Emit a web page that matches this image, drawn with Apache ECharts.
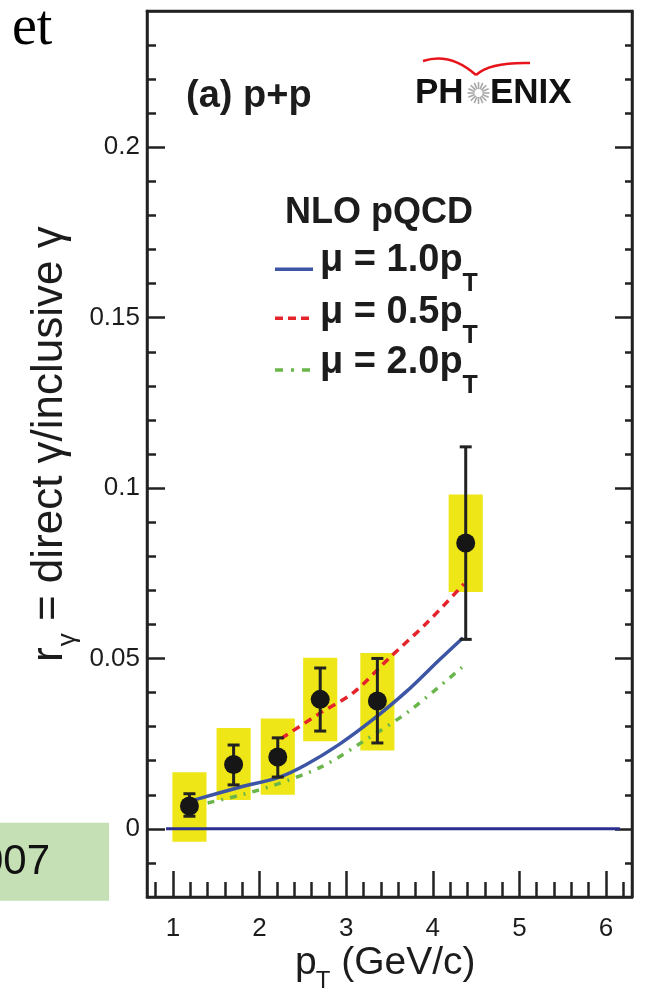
<!DOCTYPE html>
<html><head><meta charset="utf-8">
<script src="https://cdn.jsdelivr.net/npm/echarts@6/dist/echarts.min.js"></script>
<style>html,body{margin:0;padding:0;background:#fff}#c{width:651px;height:994px}</style>
</head><body><div id="c"></div>
<script>
// ---- data ----
const pT        = [1.19, 1.70, 2.21, 2.70, 3.36, 4.38];
const rGamma    = [0.0067, 0.0189, 0.0211, 0.0380, 0.0375, 0.0839];
const statLow   = [0.0037, 0.0129, 0.0152, 0.0287, 0.0252, 0.0556];
const statHigh  = [0.0103, 0.0246, 0.0267, 0.0472, 0.0500, 0.1121];
const sysLow    = [-0.0038, 0.0085, 0.0100, 0.0257, 0.0230, 0.0695];
const sysHigh   = [0.0166, 0.0296, 0.0324, 0.0502, 0.0516, 0.0981];

const mu10X = [1.20, 1.29, 1.77, 2.23, 2.54, 2.92, 3.31, 3.70, 4.08, 4.35];
const mu10Y = [0.0082, 0.0088, 0.0122, 0.0152, 0.0189, 0.0248, 0.0321, 0.0404, 0.0497, 0.0561];
const mu05X = [2.25, 2.70, 3.08, 3.50, 3.93, 4.36];
const mu05Y = [0.0265, 0.0340, 0.0399, 0.0502, 0.0604, 0.0719];
const mu20X = [1.40, 1.81, 2.19, 2.73, 3.23, 3.73, 4.36];
const mu20Y = [0.0076, 0.0101, 0.0130, 0.0184, 0.0262, 0.0346, 0.0479];
const zeroX = [0.92, 6.16];
const zeroY = [0, 0];

const xMajorTicks = [1, 2, 3, 4, 5, 6];
const xMinorTicks = [0.8, 1.2, 1.4, 1.6, 1.8, 2.2, 2.4, 2.6, 2.8, 3.2, 3.4, 3.6, 3.8,
                     4.2, 4.4, 4.6, 4.8, 5.2, 5.4, 5.6, 5.8, 6.2];
const yMajorTicks = [0, 0.05, 0.1, 0.15, 0.2];
const yMinorTicks = [-0.01, 0.01, 0.02, 0.03, 0.04, 0.06, 0.07, 0.08, 0.09, 0.11, 0.12, 0.13, 0.14,
                     0.16, 0.17, 0.18, 0.19, 0.21, 0.22, 0.23];

const legendNames = ['\u03bc = 1.0p', '\u03bc = 0.5p', '\u03bc = 2.0p'];

// ---- styling ----
const FONT = '"Liberation Sans", Arial, sans-serif';
const INK = '#1c1c1c';
const BLUE = '#3d55a5', RED = '#e5232b', GREEN = '#6ab64a', YELLOW = '#eee617';
const BOX_HALF = 0.197;

const mctx = document.createElement('canvas').getContext('2d');
function tw(s, font) { mctx.font = font; return mctx.measureText(s).width; }

const zip = (a, b) => a.map((v, i) => [v, b[i]]);

const chart = echarts.init(document.getElementById('c'), null, {renderer: 'canvas'});

const axisBase = {type: 'value', min: 0.7, max: 6.3, splitLine: {show: false}};
const yBase = {type: 'value', min: -0.02, max: 0.24, splitLine: {show: false}};
const lineSt = {color: '#222', width: 2.5};

// label pieces
const yFont = '44px ' + FONT, ySubFont = '26px ' + FONT;
const xFont = '39px ' + FONT, xSubFont = '24px ' + FONT;
const legFont = 'bold 38px ' + FONT, legSubFont = 'bold 25px ' + FONT;

const legendY = [260.8, 312.3, 362.5];
const legendLineY = [269.3, 318.3, 370];
const legendColors = [BLUE, RED, GREEN];
const legendDash = ['solid', [8, 5], [8, 8, 3, 8]];

const graphics = [];
// slide fragments
graphics.push({type: 'text', x: 12, y: 29.5, style: {text: 'et', font: '56px "Liberation Serif", serif', fill: '#000', align: 'left', verticalAlign: 'middle'}});
graphics.push({type: 'rect', shape: {x: 0, y: 822.7, width: 109, height: 78}, style: {fill: '#c5e0b4'}});
graphics.push({type: 'text', x: 50, y: 862.5, style: {text: '007', font: '42px ' + FONT, fill: '#111', align: 'right', verticalAlign: 'middle'}});

// (a) p+p
graphics.push({type: 'text', x: 186, y: 97, style: {text: '(a) p+p', font: 'bold 38px ' + FONT, fill: INK, align: 'left', verticalAlign: 'middle'}});
// PHENIX logo
graphics.push({type: 'text', x: 415, y: 93.4, style: {text: 'PH', font: 'bold 35px ' + FONT, fill: '#111', align: 'left', verticalAlign: 'middle'}});
graphics.push({type: 'text', x: 490, y: 93.4, style: {text: 'ENIX', font: 'bold 35px ' + FONT, fill: '#111', align: 'left', verticalAlign: 'middle'}});
for (let k = 0; k < 16; k++) {
  const a = k * Math.PI / 8;
  graphics.push({type: 'line', shape: {x1: 478.5 + 4 * Math.cos(a), y1: 93 + 4 * Math.sin(a), x2: 478.5 + 11 * Math.cos(a), y2: 93 + 11 * Math.sin(a)}, style: {stroke: '#a8a8a8', lineWidth: 1.6}});
}
graphics.push({type: 'bezierCurve', shape: {x1: 423, y1: 61, cpx1: 450, cpy1: 52, x2: 476, y2: 75}, style: {stroke: '#e8141c', lineWidth: 2.5, fill: null}});
graphics.push({type: 'bezierCurve', shape: {x1: 476, y1: 75, cpx1: 490, cpy1: 62, x2: 530, y2: 63}, style: {stroke: '#e8141c', lineWidth: 2.5, fill: null}});

// legend
graphics.push({type: 'text', x: 285, y: 213.3, style: {text: 'NLO pQCD', font: 'bold 36px ' + FONT, fill: INK, align: 'left', verticalAlign: 'middle'}});
legendNames.forEach((nm, i) => {
  graphics.push({type: 'line', shape: {x1: 275, y1: legendLineY[i], x2: 313, y2: legendLineY[i]}, style: {stroke: legendColors[i], lineWidth: 3.5, lineDash: legendDash[i] === 'solid' ? null : legendDash[i]}});
  graphics.push({type: 'text', x: 320, y: legendY[i], style: {text: nm, font: legFont, fill: INK, align: 'left', verticalAlign: 'middle'}});
  graphics.push({type: 'text', x: 320 + tw(nm, legFont), y: legendY[i] + 23.5, style: {text: 'T', font: legSubFont, fill: INK, align: 'left', verticalAlign: 'middle'}});
});

// y axis title (rotated)
const wr = tw('r', yFont), wg = tw('\u03b3', ySubFont);
graphics.push({type: 'group', x: 49.4, y: 662, rotation: Math.PI / 2, children: [
  {type: 'text', x: 0, y: 0, style: {text: 'r', font: yFont, fill: INK, align: 'left', verticalAlign: 'middle'}},
  {type: 'text', x: wr + 1, y: 18, style: {text: '\u03b3', font: ySubFont, fill: INK, align: 'left', verticalAlign: 'middle'}},
  {type: 'text', x: wr + wg + 1, y: 0, style: {text: ' = direct \u03b3/inclusive \u03b3', font: yFont, fill: INK, align: 'left', verticalAlign: 'middle'}}
]});
// x axis title
const wp = tw('p', xFont), wt = tw('T', xSubFont);
graphics.push({type: 'text', x: 295, y: 963, style: {text: 'p', font: xFont, fill: INK, align: 'left', verticalAlign: 'middle'}});
graphics.push({type: 'text', x: 295 + wp - 1, y: 981.5, style: {text: 'T', font: xSubFont, fill: INK, align: 'left', verticalAlign: 'middle'}});
graphics.push({type: 'text', x: 295 + wp + wt - 1, y: 963, style: {text: ' (GeV/c)', font: xFont, fill: INK, align: 'left', verticalAlign: 'middle'}});

const option = {
  backgroundColor: '#fff',
  animation: false,
  grid: {left: 147, top: 11, right: 19, bottom: 97, show: true, borderColor: '#222', borderWidth: 2.5, backgroundColor: 'transparent'},
  xAxis: [
    Object.assign({}, axisBase, {position: 'bottom', axisLine: {show: true, onZero: false, lineStyle: lineSt},
      axisTick: {show: true, inside: true, length: 26, customValues: xMajorTicks, lineStyle: {color: '#222', width: 2.5}},
      axisLabel: {show: true, customValues: xMajorTicks, fontSize: 26, fontFamily: FONT, color: INK, margin: 19}}),
    Object.assign({}, axisBase, {position: 'bottom', axisLine: {show: false, onZero: false},
      axisTick: {show: true, inside: true, length: 15, customValues: xMinorTicks, lineStyle: {color: '#222', width: 2.5}},
      axisLabel: {show: false}}),
    Object.assign({}, axisBase, {position: 'top', axisLine: {show: true, onZero: false, lineStyle: lineSt}, axisTick: {show: false}, axisLabel: {show: false}})
  ],
  yAxis: [
    Object.assign({}, yBase, {position: 'left', axisLine: {show: true, onZero: false, lineStyle: lineSt},
      axisTick: {show: true, inside: true, length: 18, customValues: yMajorTicks, lineStyle: {color: '#222', width: 2.5}},
      axisLabel: {show: true, customValues: yMajorTicks, fontSize: 26, fontFamily: FONT, color: INK, margin: 7}}),
    Object.assign({}, yBase, {position: 'left', axisLine: {show: false, onZero: false},
      axisTick: {show: true, inside: true, length: 9, customValues: yMinorTicks, lineStyle: {color: '#222', width: 2.5}},
      axisLabel: {show: false}}),
    Object.assign({}, yBase, {position: 'right', axisLine: {show: true, onZero: false, lineStyle: lineSt},
      axisTick: {show: true, inside: true, length: 17, customValues: yMajorTicks, lineStyle: {color: '#222', width: 2.5}},
      axisLabel: {show: false}}),
    Object.assign({}, yBase, {position: 'right', axisLine: {show: false, onZero: false},
      axisTick: {show: true, inside: true, length: 7, customValues: yMinorTicks, lineStyle: {color: '#222', width: 2.5}},
      axisLabel: {show: false}})
  ],
  series: [
    {type: 'custom', name: 'sys', z: 1, silent: true,
      encode: {x: 0, y: [1, 2]},
      data: pT.map((x, i) => [x, sysLow[i], sysHigh[i]]),
      renderItem: function (params, api) {
        const x = api.value(0), lo = api.value(1), hi = api.value(2);
        const a = api.coord([x - BOX_HALF, hi]), b = api.coord([x + BOX_HALF, lo]);
        return {type: 'rect', shape: {x: a[0], y: a[1], width: b[0] - a[0], height: b[1] - a[1]}, style: {fill: YELLOW}};
      }},
    {type: 'line', name: 'zero', z: 2, silent: true, data: zip(zeroX, zeroY), showSymbol: false, symbol: 'none',
      lineStyle: {color: '#2b3090', width: 3}},
    {type: 'line', name: 'mu10', z: 3, silent: true, data: zip(mu10X, mu10Y), symbol: 'none', smooth: 0.3,
      lineStyle: {color: BLUE, width: 3.5}},
    {type: 'line', name: 'mu05', z: 3, silent: true, data: zip(mu05X, mu05Y), symbol: 'none', smooth: 0.3,
      lineStyle: {color: RED, width: 3.5, type: [8, 6]}},
    {type: 'line', name: 'mu20', z: 3, silent: true, data: zip(mu20X, mu20Y), symbol: 'none', smooth: 0.3,
      lineStyle: {color: GREEN, width: 3.5, type: [7, 7, 2, 7]}},
    {type: 'custom', name: 'stat', z: 4, silent: true,
      encode: {x: 0, y: [1, 2]},
      data: pT.map((x, i) => [x, statLow[i], statHigh[i]]),
      renderItem: function (params, api) {
        const x = api.value(0), lo = api.value(1), hi = api.value(2);
        const t = api.coord([x, hi]), b = api.coord([x, lo]);
        const w = 6, st = {stroke: '#222', lineWidth: 3};
        return {type: 'group', children: [
          {type: 'line', shape: {x1: t[0], y1: t[1], x2: b[0], y2: b[1]}, style: st},
          {type: 'line', shape: {x1: t[0] - w, y1: t[1], x2: t[0] + w, y2: t[1]}, style: st},
          {type: 'line', shape: {x1: b[0] - w, y1: b[1], x2: b[0] + w, y2: b[1]}, style: st}
        ]};
      }},
    {type: 'scatter', name: 'data', z: 5, silent: true, data: zip(pT, rGamma), symbol: 'circle', symbolSize: 19,
      itemStyle: {color: '#161616', opacity: 1}}
  ],
  graphic: graphics
};
chart.setOption(option);
</script>
</body></html>
